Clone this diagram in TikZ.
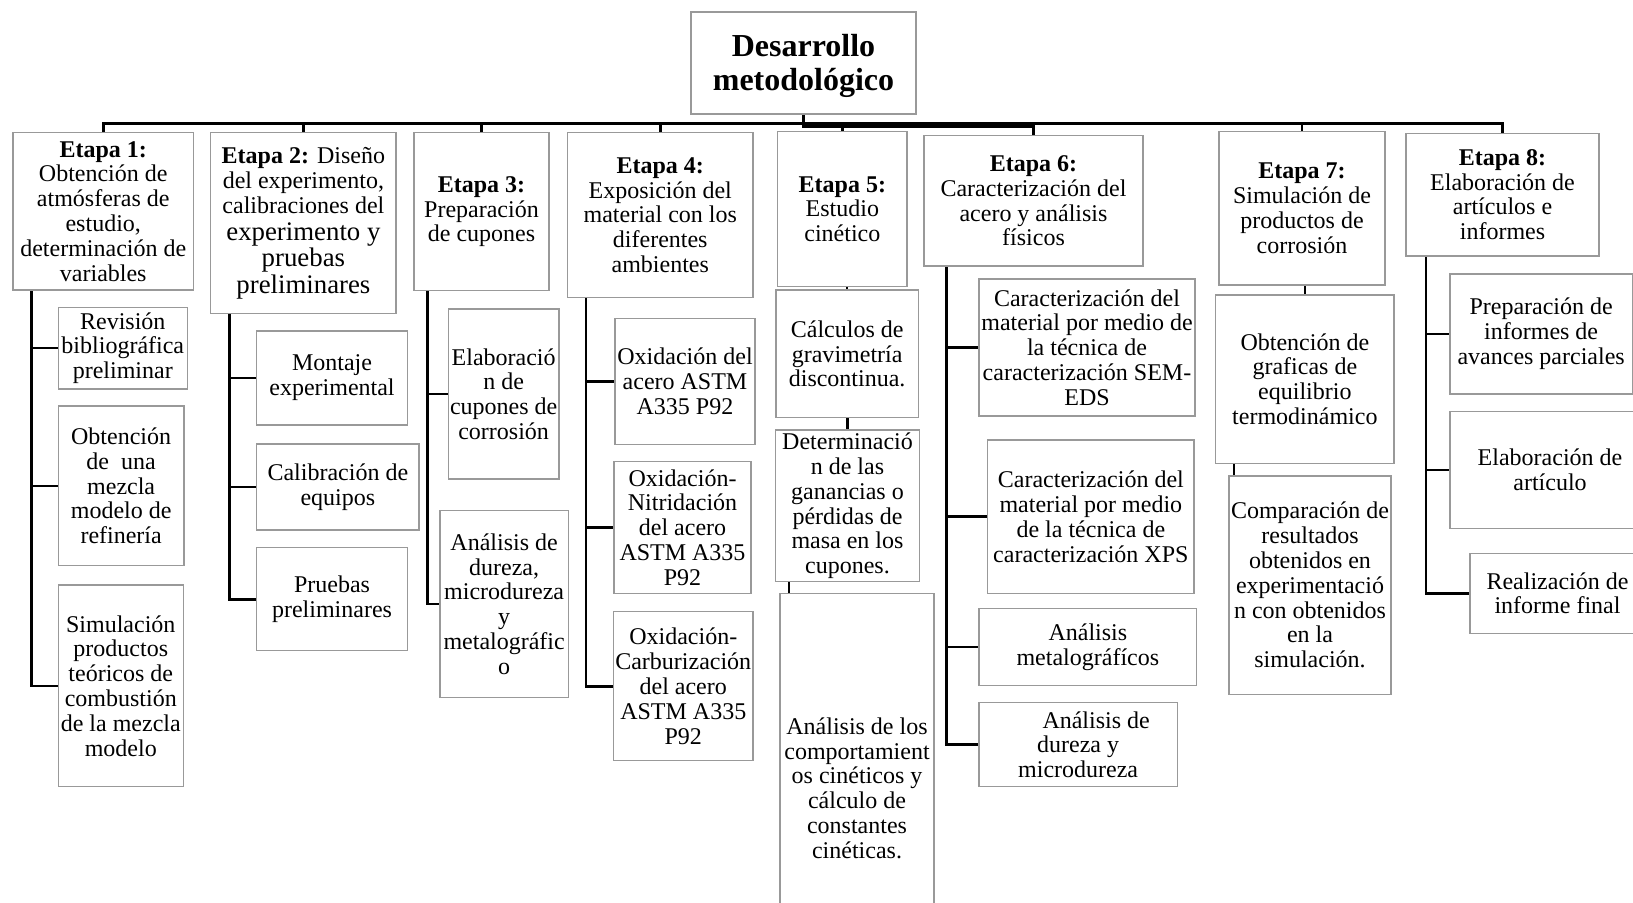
\documentclass[tikz,border=0pt]{standalone}
\usepackage{fontspec}
\setmainfont{Liberation Serif}
\usetikzlibrary{backgrounds}
\newcommand{\bx}[6]{\node[box, minimum width={(#4-#2)*0.5pt}, minimum height={(#5-#3)*0.5pt}] (#1) at ({(#2+#4)/2},{(#3+#5)/2}) {#6};}
\newcommand{\bigtxt}[1]{{\fontsize{13.4}{13.8}\selectfont #1}}
\begin{document}
\begin{tikzpicture}[x=0.5pt,y=-0.5pt,
  box/.style={draw=black!40, line width=0.6pt, fill=white, align=center, inner sep=0pt,
    font=\fontsize{12}{12.4}\selectfont},
  rootbox/.style={box, font=\bfseries\fontsize{16}{17}\selectfont},
  conn/.style={line width=1.3pt, draw=black}]
\useasboundingbox (0,0) rectangle (1633,903);
\clip (0,0) rectangle (1633,903);

\node[rootbox, minimum width={225*0.5pt}, minimum height={102*0.5pt}] (root) at (803.5,63) {\rule{0pt}{14.5pt}Desarrollo\\metodológico};

\bx{e1}{13}{132.7}{193.5}{290}{\textbf{Etapa 1:}\\Obtención de\\atmósferas de\\estudio,\\determinación de\\variables}
\bx{e2}{210.8}{132.7}{396}{313.3}{\textbf{Etapa 2:} Diseño\\del experimento,\\calibraciones del\\[1.2pt]\bigtxt{experimento y}\\[0.8pt]\bigtxt{pruebas}\\[0.8pt]\bigtxt{preliminares}}
\bx{e3}{414}{132.7}{549}{290.7}{\textbf{Etapa 3:}\\Preparación\\de cupones}
\bx{e4}{567.5}{132.7}{753}{297.7}{\textbf{Etapa 4:}\\Exposición del\\material con los\\diferentes\\ambientes}
\bx{e5}{777.7}{131.7}{907}{286.7}{\textbf{Etapa 5:}\\Estudio\\cinético}
\bx{e6}{924}{135.7}{1143}{266}{\textbf{Etapa 6:}\\Caracterización del\\acero y análisis\\físicos}
\bx{e7}{1219}{131.7}{1385}{285}{\textbf{Etapa 7:}\\Simulación de\\productos de\\corrosión}
\bx{e8}{1406}{133.3}{1599}{256}{\textbf{Etapa 8:}\\Elaboración de\\artículos e\\informes}

\bx{c1a}{58.3}{307.3}{187.3}{389}{Revisión\\bibliográfica\\preliminar}
\bx{c1b}{58.3}{406}{184}{565.7}{Obtención\\de\ \ una\\mezcla\\modelo de\\refinería}
\bx{c1c}{58.3}{585}{183.3}{786.7}{Simulación\\productos\\teóricos de\\combustión\\de la mezcla\\modelo}

\bx{c2a}{256.7}{331}{407.3}{425}{Montaje\\experimental}
\bx{c2b}{256.7}{444}{419}{530}{Calibración de\\equipos}
\bx{c2c}{256.7}{547.7}{407.3}{650.7}{Pruebas\\preliminares}

\bx{c3a}{448.3}{309}{559}{479}{Elaboració\\n de\\cupones de\\corrosión}
\bx{c3b}{440}{510.7}{568.3}{697.3}{Análisis de\\dureza,\\microdureza\\y\\metalográfic\\o}

\bx{c4a}{615}{318.3}{755}{444.3}{Oxidación del\\acero ASTM\\A335 P92}
\bx{c4b}{614}{461.7}{751}{593.3}{Oxidación-\\Nitridación\\del acero\\ASTM A335\\P92}
\bx{c4c}{613.5}{611.7}{753}{760.7}{Oxidación-\\Carburización\\del acero\\ASTM A335\\P92}

\bx{c5a}{776}{290}{918.3}{417.7}{Cálculos de\\gravimetría\\discontinua.}
\bx{c5b}{775.7}{430}{919.3}{581.7}{Determinació\\n de las\\ganancias o\\pérdidas de\\masa en los\\cupones.}
\bx{c5c}{780}{593.3}{934}{983}{Análisis de los\\comportamient\\os cinéticos y\\cálculo de\\constantes\\cinéticas.}

\bx{c6a}{979}{279}{1195}{416}{Caracterización del\\material por medio de\\la técnica de\\caracterización SEM-\\EDS}
\bx{c6b}{987.7}{440}{1194}{593.3}{Caracterización del\\material por medio\\de la técnica de\\caracterización XPS}
\bx{c6c}{979}{608.3}{1196.7}{685.7}{Análisis\\metalográfícos}
\bx{c6d}{979}{702.7}{1177.3}{786.7}{\hspace*{18pt}Análisis de\\dureza y\\microdureza}

\bx{c7a}{1215.7}{295}{1394}{463.3}{Obtención de\\graficas de\\equilibrio\\termodinámico}
\bx{c7b}{1229}{476}{1391}{694.3}{Comparación de\\resultados\\obtenidos en\\experimentació\\n con obtenidos\\en la\\simulación.}

\bx{c8a}{1450}{274}{1632.3}{394}{Preparación de\\informes de\\avances parciales}
\bx{c8b}{1450}{411.7}{1650}{528.3}{Elaboración de\\artículo}
\bx{c8c}{1470}{553.3}{1645}{633.3}{Realización de\\informe final}

\coordinate (bus) at (0,123.3);
\coordinate (bus2) at (0,126.7);
\coordinate (x1) at (31.7,0);
\coordinate (x2) at (229.3,0);
\coordinate (x3) at (427.7,0);
\coordinate (x4) at (586,0);
\coordinate (x5) at (789,0);
\coordinate (x6) at (946.7,0);
\coordinate (x7) at (1234,0);
\coordinate (x8) at (1426,0);

\begin{pgfonlayer}{background}
\fill[white] (0,0) rectangle (1633,903);
% top bus
\draw[conn] (e1.north) -- (e1.north |- bus) -| (e8.north);
\draw[conn] (e2.north) -- (e2.north |- bus);
\draw[conn] (e3.north) -- (e3.north |- bus);
\draw[conn] (e4.north) -- (e4.north |- bus);
\draw[conn] (e7.north) -- (e7.north |- bus);
\draw[conn] (root.south) -- (root.south |- bus2) -| (e6.north);
\draw[conn] (e5.north) -- (e5.north |- bus2);
% Etapa 1
\draw[conn] (x1 |- e1.south) |- (c1c.west);
\draw[conn] (x1 |- c1a.west) -- (c1a.west);
\draw[conn] (x1 |- c1b.west) -- (c1b.west);
% Etapa 2
\draw[conn] (x2 |- e2.south) |- (c2c.west);
\draw[conn] (x2 |- c2a.west) -- (c2a.west);
\draw[conn] (x2 |- c2b.west) -- (c2b.west);
% Etapa 3
\draw[conn] (x3 |- e3.south) |- (c3b.west);
\draw[conn] (x3 |- c3a.west) -- (c3a.west);
% Etapa 4
\draw[conn] (x4 |- e4.south) |- (c4c.west);
\draw[conn] (x4 |- c4a.west) -- (c4a.west);
\draw[conn] (x4 |- c4b.west) -- (c4b.west);
% Etapa 5
\draw[conn] (c5a.north) -- (c5a.north |- e5.south);
\draw[conn] (c5b.north) -- (c5b.north |- c5a.south);
\draw[conn] (x5 |- c5b.south) |- (c5c.west);
% Etapa 6
\draw[conn] (x6 |- e6.south) |- (c6d.west);
\draw[conn] (x6 |- c6a.west) -- (c6a.west);
\draw[conn] (x6 |- c6b.west) -- (c6b.west);
\draw[conn] (x6 |- c6c.west) -- (c6c.west);
% Etapa 7
\draw[conn] (c7a.north) -- (c7a.north |- e7.south);
\draw[conn] (x7 |- c7a.south) |- (c7b.west);
% Etapa 8
\draw[conn] (x8 |- e8.south) |- (c8c.west);
\draw[conn] (x8 |- c8a.west) -- (c8a.west);
\draw[conn] (x8 |- c8b.west) -- (c8b.west);
\end{pgfonlayer}
\end{tikzpicture}
\end{document}
